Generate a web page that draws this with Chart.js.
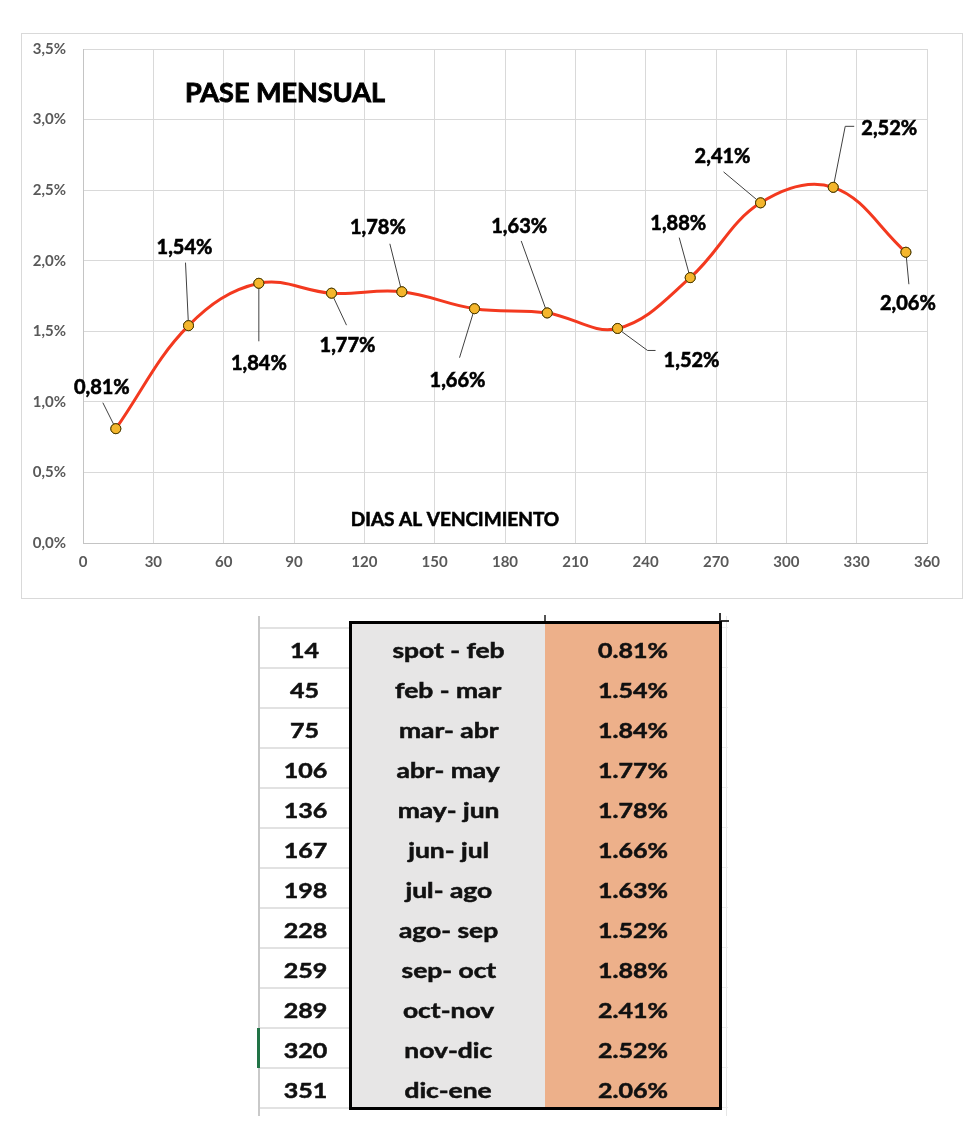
<!DOCTYPE html>
<html>
<head>
<meta charset="utf-8">
<script src="https://cdn.jsdelivr.net/npm/chart.js@4.4.1/dist/chart.umd.min.js"></script>
<style>
html,body{margin:0;padding:0;background:#fff;}
body{width:980px;height:1139px;position:relative;overflow:hidden;font-family:Lato,"Open Sans",sans-serif;}
#frame{position:absolute;left:21px;top:33px;width:940px;height:564px;border:1px solid #d9d9d9;}
#wrap{position:absolute;left:0;top:0;width:980px;height:610px;}
#tbl{position:absolute;left:0;top:0;width:980px;height:1139px;}
.abs{position:absolute;}
.cell{position:absolute;height:40px;line-height:40px;text-align:center;font-weight:700;font-size:20px;color:#111;-webkit-text-stroke:0.5px #111;}
.cell span{display:inline-block;transform:scaleX(1.25);}
.cell.wide span{transform:scaleX(1.32);}
</style>
</head>
<body>
<div id="frame"></div>
<div id="wrap"><canvas id="c" width="980" height="610"></canvas></div>
<div id="tbl"></div>
<script>
// ---- data ----
const days = [14, 45, 75, 106, 136, 167, 198, 228, 259, 289, 320, 351];
const pases = [0.81, 1.54, 1.84, 1.77, 1.78, 1.66, 1.63, 1.52, 1.88, 2.41, 2.52, 2.06];
const pairs = ["spot - feb", "feb - mar", "mar- abr", "abr- may", "may- jun", "jun- jul",
               "jul- ago", "ago- sep", "sep- oct", "oct-nov", "nov-dic", "dic-ene"];
const xTicks = [0, 30, 60, 90, 120, 150, 180, 210, 240, 270, 300, 330, 360];
const yTicks = [0, 0.5, 1.0, 1.5, 2.0, 2.5, 3.0, 3.5];
const chartTitle = "PASE MENSUAL";
const xTitle = "DIAS AL VENCIMIENTO";

// label placement (offsets from each point, pixels): text centre, leader end, optional elbow end
const labelPos = [
  {dx:-14, dy:-42, lx:-13, ly:-26},
  {dx:-4,  dy:-79, lx:-3,  ly:-63},
  {dx:0,   dy:80,  lx:0,   ly:58},
  {dx:16,  dy:52,  lx:15,  ly:32},
  {dx:-24, dy:-65, lx:-12, ly:-48},
  {dx:-17, dy:71,  lx:-15, ly:49},
  {dx:-28, dy:-87, lx:-26, ly:-72},
  {dx:74,  dy:31,  lx:30,  ly:22, ex:38},
  {dx:-12, dy:-55, lx:-11, ly:-40},
  {dx:-38, dy:-47, lx:-37, ly:-31},
  {dx:56,  dy:-59, lx:12,  ly:-61, ex:21},
  {dx:2,   dy:51,  lx:3,   ly:32}
];

const fmtComma = v => v.toFixed(2).replace('.', ',') + '%';
const FONT = 'Lato, "Open Sans", sans-serif';

function capText(ctx, txt, cx, cy, size, stroke) {
  ctx.font = 'bold ' + size + 'px ' + FONT;
  ctx.textAlign = 'center';
  ctx.textBaseline = 'alphabetic';
  const y = cy + size * 0.716 / 2;
  ctx.fillText(txt, cx, y);
  ctx.lineWidth = stroke;
  ctx.strokeStyle = ctx.fillStyle;
  ctx.strokeText(txt, cx, y);
}

const annotations = {
  id: 'annotations',
  beforeDatasetsDraw(chart) {
    const ctx = chart.ctx;
    ctx.save();
    ctx.fillStyle = '#000';
    capText(ctx, chartTitle, 285, 92, 27, 0.9);
    capText(ctx, xTitle, 455, 519, 19, 0.6);
    ctx.restore();
  },
  afterDatasetsDraw(chart) {
    const ctx = chart.ctx;
    const meta = chart.getDatasetMeta(0);
    ctx.save();
    meta.data.forEach((pt, i) => {
      const p = labelPos[i];
      const x = pt.x, y = pt.y;
      const ex = x + p.lx, ey = y + p.ly;
      const len = Math.hypot(p.lx, p.ly);
      const sx = x + p.lx / len * 4, sy = y + p.ly / len * 4;
      ctx.strokeStyle = '#404040';
      ctx.lineWidth = 1;
      ctx.beginPath();
      ctx.moveTo(sx, sy);
      ctx.lineTo(ex, ey);
      if (p.ex !== undefined) ctx.lineTo(x + p.ex, ey);
      ctx.stroke();
      ctx.fillStyle = '#000';
      capText(ctx, fmtComma(pases[i]), x + p.dx, y + p.dy, 20, 0.6);
    });
    meta.data.forEach(pt => pt.draw(ctx, chart.chartArea));
    ctx.restore();
  }
};

new Chart(document.getElementById('c'), {
  type: 'line',
  data: {
    datasets: [{
      data: days.map((d, i) => ({x: d, y: pases[i]})),
      borderColor: '#F3391F',
      borderWidth: 3,
      tension: 0.38,
      fill: false,
      pointRadius: 5,
      pointBackgroundColor: '#F4B62C',
      pointBorderColor: '#4a3a00',
      pointBorderWidth: 1
    }]
  },
  options: {
    responsive: false,
    devicePixelRatio: 1,
    animation: false,
    layout: {padding: {left: 0, top: 49, right: 53, bottom: 0}},
    plugins: {legend: {display: false}, tooltip: {enabled: false}, title: {display: false}},
    scales: {
      x: {
        type: 'linear', min: xTicks[0], max: xTicks[xTicks.length - 1],
        afterBuildTicks: s => { s.ticks = xTicks.map(v => ({value: v})); },
        afterFit: s => { s.height = 67; },
        grid: {color: '#d9d9d9', lineWidth: 1, drawTicks: false},
        border: {color: '#c4c4c4', width: 1},
        ticks: {padding: 10, color: '#595959', font: {family: FONT, size: 15, weight: 'bold'},
                callback: v => String(v), maxRotation: 0, autoSkip: false}
      },
      y: {
        type: 'linear', min: yTicks[0], max: yTicks[yTicks.length - 1],
        afterBuildTicks: s => { s.ticks = yTicks.map(v => ({value: v})); },
        afterFit: s => { s.width = 83; },
        grid: {color: '#d9d9d9', lineWidth: 1, drawTicks: false},
        border: {color: '#c4c4c4', width: 1},
        ticks: {padding: 17, color: '#595959', font: {family: FONT, size: 15, weight: 'bold'},
                callback: v => v.toFixed(1).replace('.', ',') + '%', autoSkip: false}
      }
    }
  },
  plugins: [annotations]
});

// ---- table ----
const T = document.getElementById('tbl');
function box(l, t, w, h, style) {
  const d = document.createElement('div');
  d.className = 'abs';
  d.style.cssText += `left:${l}px;top:${t}px;width:${w}px;height:${h}px;` + style;
  T.appendChild(d);
  return d;
}
const top0 = 628, rowH = 40, n = days.length;
box(350, 622, 195, 488, 'background:#E7E6E6;');
box(545, 622, 176, 488, 'background:#EDB08A;');
box(258, 616, 2, 500, 'background:#c9c9c9;');
box(726, 616, 1, 500, 'background:#e6e6e6;');
for (let k = 0; k <= n; k++) {
  box(260, top0 + rowH * k - 1, 90, 2, 'background:#e2e2e2;');
  box(722, top0 + rowH * k - 1, 6, 1, 'background:#ececec;');
}
box(257, top0 + rowH * 10, 3, rowH, 'background:#217346;');
box(544, 615, 2, 7, 'background:#555;');
box(719, 613, 2, 9, 'background:#333;');
box(719, 620, 10, 2, 'background:#333;');
box(349, 621, 373, 489, 'border:3px solid #000;box-sizing:border-box;');
days.forEach((d, i) => {
  const t = top0 + rowH * i + 2;
  const c1 = box(260, t, 90, rowH, ''); c1.className = 'cell'; c1.innerHTML = '<span>' + d + '</span>';
  const c2 = box(352, t, 193, rowH, ''); c2.className = 'cell wide'; c2.innerHTML = '<span>' + pairs[i] + '</span>';
  const c3 = box(545, t, 175, rowH, ''); c3.className = 'cell'; c3.innerHTML = '<span>' + pases[i].toFixed(2) + '%</span>';
});
</script>
</body>
</html>
